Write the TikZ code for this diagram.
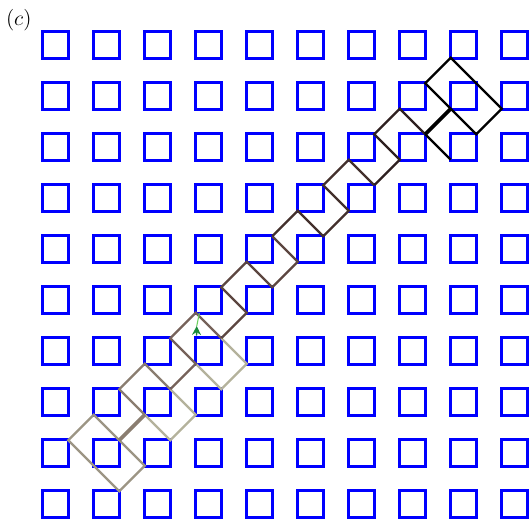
\documentclass[tikz,border=0pt]{standalone}
\usetikzlibrary{arrows.meta}
\definecolor{cBlk}{HTML}{000000}
\definecolor{cD}{HTML}{2E2020}
\definecolor{cE}{HTML}{43302C}
\definecolor{cF}{HTML}{5C4640}
\definecolor{cG}{HTML}{76625A}
\definecolor{cH}{HTML}{8A7D70}
\definecolor{cI}{HTML}{9C9584}
\definecolor{cJ}{HTML}{B4B29C}
\definecolor{cArr}{HTML}{1A8A3A}
\begin{document}
\begin{tikzpicture}[
  plaq/.style={draw=blue, line width=1.5pt},
  walk/.style={line width=1.25pt, line join=miter},
  heavy/.style={line width=2pt}
]
\useasboundingbox (-1.088,0.882) rectangle (9.324,-9.333);
\node[font=\fontsize{13}{15}\selectfont] (lbl) at (-0.72,0.49) {$(c)$};
\foreach \i in {0,...,9}{
  \foreach \j in {0,...,9}{
    \draw[plaq] (\i-0.26,-\j-0.26) rectangle (\i+0.26,-\j+0.26);
  }
}
% light beige
\draw[walk, cJ] (3.25,-5.75) -- (3.75,-6.25) -- (3.25,-6.75) -- (2.75,-6.25);
\draw[walk, cJ] (2.25,-6.75) -- (2.75,-7.25) -- (2.25,-7.75) -- (1.75,-7.25);
% first domino
\draw[walk, cI] (0.25,-7.75) -- (0.75,-7.25) -- (1.75,-8.25) -- (1.25,-8.75) -- cycle;
% walk
\draw[walk, cH] (2.25,-6.75) -- (1.75,-6.25) -- (1.25,-6.75) -- (1.75,-7.25);
\draw[walk, heavy, cH] (1.75,-7.25) -- (1.25,-7.75);
\draw[walk, cG] (3.25,-5.75) -- (2.75,-5.25) -- (2.25,-5.75) -- (2.75,-6.25) -- (2.25,-6.75);
\draw[walk, cF] (4.25,-3.75) -- (4.75,-4.25) -- (4.25,-4.75) -- (3.75,-4.25) -- (3.25,-4.75) -- (3.75,-5.25) -- (3.25,-5.75);
\draw[walk, cE] (6.25,-2.75) -- (5.75,-2.25) -- (5.25,-2.75) -- (5.75,-3.25) -- (5.25,-3.75) -- (4.75,-3.25) -- (4.25,-3.75);
\draw[walk, cD] (7.25,-1.75) -- (6.75,-1.25) -- (6.25,-1.75) -- (6.75,-2.25) -- (6.25,-2.75);
% black end
\draw[walk, cBlk] (7.25,-0.75) -- (7.75,-0.25) -- (8.75,-1.25) -- (8.25,-1.75) -- cycle;
\draw[walk, heavy, cBlk] (7.75,-1.25) -- (7.25,-1.75);
\draw[walk, cBlk] (7.25,-1.75) -- (7.75,-2.25);
% arrow
\coordinate (atip) at (2.77,-5.51);
\coordinate (atop) at (2.82,-5.26);
\coordinate (abase) at (2.765,-5.70);
\draw[line width=0.6pt, cJ!60!green] (atip) -- (atop);
\draw[cArr, line width=0.8pt, -{Stealth[length=5pt,width=5pt]}] (abase) -- (atip);
\end{tikzpicture}
\end{document}
